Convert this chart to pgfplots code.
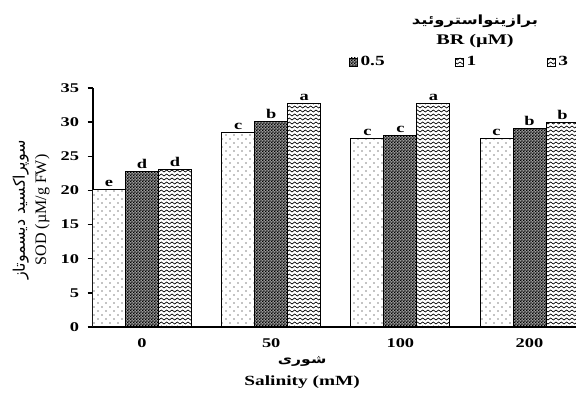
\documentclass[border=0pt]{standalone}
\usepackage{fontspec}
\setmainfont{Liberation Serif}[FakeStretch=1.38]
\newfontfamily\plainserif{Liberation Serif}
\newfontfamily\fa[Script=Arabic]{DejaVu Sans}
\newfontfamily\fawide[Script=Arabic,FakeStretch=1.3]{DejaVu Sans}
\TeXXeTstate=1
\usepackage{pgfplots}
\pgfplotsset{compat=1.18}
\usetikzlibrary{patterns}

\pgfdeclarepatternformonly{sdots}{\pgfqpoint{-1pt}{-1pt}}{\pgfqpoint{7pt}{7pt}}{\pgfqpoint{6pt}{6pt}}{%
  \pgfpathcircle{\pgfqpoint{1.5pt}{1.5pt}}{0.5pt}%
  \pgfpathcircle{\pgfqpoint{4.5pt}{4.5pt}}{0.5pt}%
  \pgfusepath{fill}}
\pgfdeclarepatternformonly{checker}{\pgfqpoint{0pt}{0pt}}{\pgfqpoint{2.4pt}{2.4pt}}{\pgfqpoint{2.4pt}{2.4pt}}{%
  \pgfpathrectangle{\pgfqpoint{0pt}{0pt}}{\pgfqpoint{1.2pt}{1.2pt}}%
  \pgfpathrectangle{\pgfqpoint{1.2pt}{1.2pt}}{\pgfqpoint{1.2pt}{1.2pt}}%
  \pgfusepath{fill}}
\pgfdeclarepatternformonly{wave}{\pgfqpoint{-0.5pt}{-0.5pt}}{\pgfqpoint{4.5pt}{3.5pt}}{\pgfqpoint{4pt}{3pt}}{%
  \pgfsetlinewidth{0.5pt}%
  \pgfpathmoveto{\pgfqpoint{0pt}{1.5pt}}%
  \pgfpathcurveto{\pgfqpoint{0.7pt}{2.5pt}}{\pgfqpoint{1.3pt}{2.5pt}}{\pgfqpoint{2pt}{1.5pt}}%
  \pgfpathcurveto{\pgfqpoint{2.7pt}{0.5pt}}{\pgfqpoint{3.3pt}{0.5pt}}{\pgfqpoint{4pt}{1.5pt}}%
  \pgfusepath{stroke}}

\begin{document}
\begin{tikzpicture}
\begin{axis}[
  at={(69.75pt,49.5pt)}, anchor=south west,
  scale only axis, width=362.25pt, height=179.25pt,
  xmin=-0.38, xmax=3.36, ymin=0, ymax=35,
  clip mode=individual,
  ybar=0pt, bar width=24.75pt,
  axis x line*=bottom, axis y line*=left,
  axis line style={line width=1.1pt, -},
  xtick={0,1,2,3}, xticklabels={0,50,100,200},
  x tick style={draw=none},
  ytick={0,5,...,35},
  y tick style={line width=1pt, black},
  tick align=outside, major tick length=4pt,
  ticklabel style={font=\bfseries\fontsize{10}{12}\selectfont},
  yticklabel style={xshift=-3pt},
  xticklabel style={yshift=-1pt},
  /pgf/number format/assume math mode=true,
  nodes near coords, point meta=explicit symbolic,
  every node near coord/.append style={font=\bfseries\fontsize{10}{12}\selectfont, inner sep=1.5pt},
  ylabel={{\fa\beginR سوپراکسید دیسموتاز\endR}\\{\plainserif SOD (µM/g FW)}},
  ylabel style={align=center, font=\fontsize{12}{16}\selectfont, at={(axis description cs:-0.128,0.49)}, anchor=center},
  xlabel={{\fawide\bfseries\fontsize{9}{10}\selectfont\beginR شوری\endR}\\[3pt]Salinity (mM)},
  xlabel style={align=center, font=\bfseries\fontsize{10.5}{14}\selectfont, at={(axis description cs:0.433,-0.102)}, anchor=north},
  legend style={draw=none, fill=none, at={(axis description cs:0.530,1.109)}, anchor=west,
    font=\bfseries\fontsize{10.5}{12}\selectfont, inner sep=0pt,
    /tikz/every even column/.append style={column sep=51pt}},
  legend columns=3,
  legend image code/.code={\draw[#1, line width=0.5pt] (0pt,-3pt) rectangle (6pt,3pt);},
]
\addplot[forget plot, bar shift=-24.75pt, draw=black, line width=0.75pt, fill=white, postaction={pattern=sdots}]
  coordinates {(0,20.2)[e] (1,28.5)[c] (2,27.6)[c] (3,27.6)[c]};
\addplot[forget plot, bar shift=0pt, draw=black, line width=0.75pt, fill=black!40, postaction={pattern=checker}]
  coordinates {(0,22.8)[d] (1,30.1)[b] (2,28.1)[c] (3,29.1)[b]};
\addplot[forget plot, bar shift=24.75pt, draw=black, line width=0.75pt, fill=white, postaction={pattern=wave}]
  coordinates {(0,23.1)[d] (1,32.8)[a] (2,32.8)[a] (3,30.0)[b]};
\addlegendimage{fill=black!40, postaction={pattern=checker}}
\addlegendentry{0.5}
\addlegendimage{fill=white, postaction={pattern=wave}}
\addlegendentry{1}
\addlegendimage{fill=white, postaction={pattern=wave}}
\addlegendentry{3}
\node[font=\bfseries\fontsize{9.5}{12}\selectfont] at (axis description cs:0.791,1.280) {\fawide\beginR برازینواستروئید\endR};
\node[font=\bfseries\fontsize{11}{13}\selectfont] at (axis description cs:0.791,1.195) {BR (µM)};
\end{axis}
\pgfresetboundingbox
\path (0,0) rectangle (432pt,294.75pt);
\end{tikzpicture}
\end{document}
